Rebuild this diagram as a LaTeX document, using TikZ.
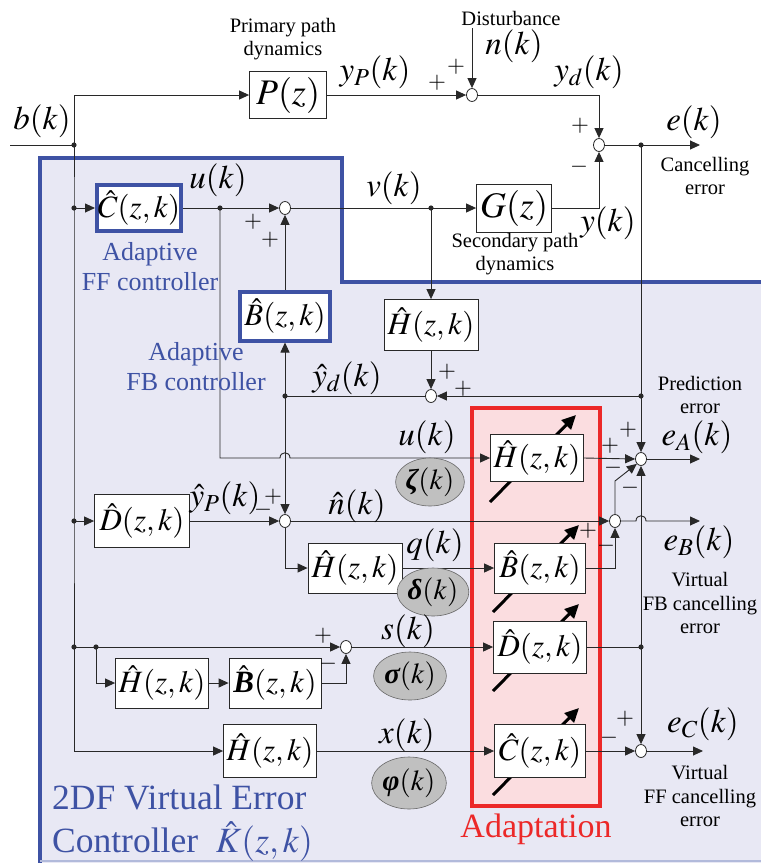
\documentclass[tikz,border=0pt]{standalone}
\usepackage{mathptmx}
\usepackage{fontspec}
\setmainfont{Liberation Serif}
\usetikzlibrary{arrows.meta,shapes.geometric,calc}
\definecolor{cblue}{RGB}{62,82,164}
\definecolor{cfill}{RGB}{232,232,244}
\definecolor{cred}{RGB}{236,40,40}
\definecolor{cpink}{RGB}{251,221,224}
\definecolor{cgray}{RGB}{192,192,192}
\definecolor{cline}{RGB}{40,40,40}
\begin{document}
\begin{tikzpicture}[x=1pt,y=-1pt,
  conn/.style={draw=cline,line width=0.9pt},
  arr/.style={conn,-{Triangle[length=10pt,width=9pt]}},
  blk/.style={draw=cline,fill=white,line width=0.8pt,inner sep=0pt,font=\fontsize{31}{33}\selectfont},
  bblk/.style={blk,draw=cblue,line width=4pt},
  sj/.style={ellipse,draw=cline,fill=white,line width=0.8pt,minimum width=11pt,minimum height=13pt,inner sep=0pt},
  lbl/.style={font=\fontsize{33}{36}\selectfont,inner sep=0pt},
  sgn/.style={font=\fontsize{23}{25}\selectfont,inner sep=0pt},
  small/.style={font=\fontsize{20.5}{23.5}\selectfont,align=center,inner sep=0pt},
  bluet/.style={font=\fontsize{26}{30}\selectfont,text=cblue,align=center,inner sep=0pt},
  greek/.style={ellipse,draw=cline!70,fill=cgray,line width=0.6pt,inner sep=0pt,font=\fontsize{29}{32}\selectfont},
  adapt/.style={line width=3pt,-{Triangle[length=14pt,width=13pt]}}
]
\clip (0,0) rectangle (761,863);
\useasboundingbox (0,0) rectangle (761,863);
\fill[white] (0,0) rectangle (761,863);
% controller region
\fill[cfill] (40,158) -- (342,158) -- (342,282) -- (770,282) -- (770,870) -- (40,870) -- cycle;
\draw[cblue,line width=4.5pt] (40,870) -- (40,158) -- (342,158) -- (342,282) -- (770,282);
\draw[cblue!40,line width=1.2pt] (40,861) -- (770,861);
% adaptation region
\draw[cred,fill=cpink,line width=4pt] (472,408) rectangle (600,806);
\node[font=\fontsize{34}{38}\selectfont,text=cred,inner sep=0pt] (adtxt) at (536,829) {Adaptation};
% adaptation arrows
\coordinate (AHc) at (537,458);
\coordinate (ABc) at (540,568);
\coordinate (ADc) at (540,647);
\coordinate (ACc) at (540,751);
\foreach \c in {AHc,ABc,ADc,ACc}{
  \draw[adapt] ($(\c)+(-47,44)$) -- ($(\c)+(39,-43)$);
}
% blocks
\node[blk,minimum width=77pt,minimum height=47pt,font=\fontsize{36}{38}\selectfont] (P) at (288,95) {$P(z)$};
\node[sj] (s1) at (472,95) {};
\node[sj] (s2) at (599,145) {};
\node[blk,minimum width=75pt,minimum height=48pt,font=\fontsize{36}{38}\selectfont] (G) at (514,208) {$G(z)$};
\node[bblk,minimum width=84pt,minimum height=46pt] (C) at (139,208) {$\hat C(z,k)$};
\node[sj] (s3) at (285,208) {};
\node[bblk,minimum width=90pt,minimum height=49pt] (B) at (285,316) {$\hat B(z,k)$};
\node[blk,minimum width=94pt,minimum height=51pt] (Hv) at (431,325) {$\hat H(z,k)$};
\node[sj] (s4) at (431,396) {};
\node[blk,minimum width=95pt,minimum height=53pt] (D) at (142,521) {$\hat D(z,k)$};
\node[sj] (s5) at (285,521) {};
\node[blk,minimum width=94pt,minimum height=50pt] (Hn) at (355,568) {$\hat H(z,k)$};
\node[blk,minimum width=93pt,minimum height=50pt] (Hb) at (162,683) {$\hat H(z,k)$};
\node[blk,minimum width=92pt,minimum height=50pt] (Bb) at (275,683) {$\hat{\mbox{\bfseries\itshape B}}(z,k)$};
\node[sj] (s6) at (346,647) {};
\node[blk,minimum width=93pt,minimum height=53pt] (Hx) at (270,751) {$\hat H(z,k)$};
\node[blk,minimum width=93pt,minimum height=47pt] (AH) at (AHc) {$\hat H(z,k)$};
\node[blk,minimum width=91pt,minimum height=50pt] (AB) at (ABc) {$\hat B(z,k)$};
\node[blk,minimum width=93pt,minimum height=52pt] (AD) at (ADc) {$\hat D(z,k)$};
\node[blk,minimum width=91pt,minimum height=53pt] (AC) at (ACc) {$\hat C(z,k)$};
\node[sj] (eA) at (641,459) {};
\node[sj] (eB) at (615,521) {};
\node[sj] (eC) at (641,751) {};
% junction points
\coordinate (bin) at (10,145);
\coordinate (jb) at (74,145);
\coordinate (jC) at (74,208);
\coordinate (jD) at (74,521);
\coordinate (jL) at (74,647);
\coordinate (jL2) at (96,647);
\coordinate (ju) at (220,208);
\coordinate (jv) at (431,208);
\coordinate (je) at (641,145);
\coordinate (jp) at (641,396);
\coordinate (jyd) at (285,396);
\coordinate (jdd) at (641,647);
\coordinate (nin) at (472,28);
\coordinate (eout) at (700,145);
\coordinate (eAout) at (700,459);
\coordinate (eBout) at (700,521);
\coordinate (eCout) at (703,751);
% connectors
\draw[conn] (bin) -- (jb);
\draw[arr] (jb) |- (P.west);
\draw[conn] (jb) -- (jC) -- (jD) -- (jL);
\draw[arr] (jC) -- (C.west);
\draw[arr] (jD) -- (D.west);
\draw[arr] (jL) |- (Hx.west);
\draw[arr] (P.east) -- (s1.west);
\draw[arr] (nin) -- (s1.north);
\draw[arr] (s1.east) -| (s2.north);
\draw[arr] (s2.east) -- (eout);
\draw[arr] (G.east) -| (s2.south);
\draw[arr] (C.east) -- (s3.west);
\draw[arr] (s3.east) -- (G.west);
\draw[arr] (jv) -- (Hv.north);
\draw[arr] (Hv.south) -- (s4.north);
\draw[conn] (je) -- (jp);
\draw[arr] (jp) -- (eA.north);
\draw[arr] (jp) -- (s4.east);
\draw[conn] (s4.west) -- (jyd);
\draw[arr] (jyd) -- (B.south);
\draw[arr] (B.north) -- (s3.south);
\draw[arr] (jyd) -- (s5.north);
\draw[arr] (ju) -- (220,458) -- (280,458) .. controls (280,451) and (290,451) .. (290,458) -- (AH.west);
\draw[arr] (D.east) -- (s5.west);
\draw[arr] (s5.east) -- (eB.west);
\draw[arr] (s5.south) |- (Hn.west);
\draw[arr] (Hn.east) -- (AB.west);
\draw[arr] (AH.east) -- (eA.west);
\draw[arr] (AB.east) -| (eB.south);
\draw[arr] (eB.north) -- (615,481) -- (eA.south west);
\draw[arr] (eA.east) -- (eAout);
\draw[arr] (eB.east) -- (636,521) .. controls (636,514) and (646,514) .. (646,521) -- (eBout);
\draw[conn] (AD.east) -- (jdd);
\draw[arr] (jdd) -- (eA.south);
\draw[arr] (jdd) -- (eC.north);
\draw[arr] (AC.east) -- (eC.west);
\draw[arr] (eC.east) -- (eCout);
\draw[arr] (jL) -- (s6.west);
\draw[arr] (jL2) |- (Hb.west);
\draw[arr] (Hb.east) -- (Bb.west);
\draw[arr] (Bb.east) -| (s6.south);
\draw[arr] (s6.east) -- (AD.west);
\draw[arr] (Hx.east) -- (AC.west);
% dots
\foreach \p in {jb,jC,jD,jL,jL2,ju,jv,je,jp,jyd,jdd}{\fill[cline] (\p) circle (2.6);}
% greek ellipses
\node[greek,minimum width=56pt,minimum height=48pt] (zeta) at (430,482) {{\bfseries\itshape ζ}$(k)$};
\node[greek,minimum width=54pt,minimum height=48pt] (delta) at (433,592) {{\bfseries\itshape δ}$(k)$};
\node[greek,minimum width=58pt,minimum height=48pt] (sigma) at (410,676) {{\bfseries\itshape σ}$(k)$};
\node[greek,minimum width=58pt,minimum height=52pt] (phi) at (409,783) {{\bfseries\itshape φ}$(k)$};
% signal labels
\node[lbl] (lb) at (42,121) {$b(k)$};
\node[lbl] (lyp) at (375,72) {$y_P(k)$};
\node[lbl] (lnk) at (514,46) {$n(k)$};
\node[lbl] (lyd) at (589,72) {$y_d(k)$};
\node[lbl] (lek) at (694,122) {$e(k)$};
\node[lbl] (lyk) at (608,223) {$y(k)$};
\node[lbl] (luk) at (218,180) {$u(k)$};
\node[lbl] (lvk) at (394,188) {$v(k)$};
\node[lbl] (lydh) at (347,378) {$\hat y_d(k)$};
\node[lbl] (luk2) at (427,437) {$u(k)$};
\node[lbl] (lyph) at (225,498) {$\hat y_P(k)$};
\node[lbl] (lnh) at (357,506) {$\hat n(k)$};
\node[lbl] (lqk) at (435,545) {$q(k)$};
\node[lbl] (lsk) at (408,631) {$s(k)$};
\node[lbl] (lxk) at (407,735) {$x(k)$};
\node[lbl] (leA) at (697,437) {$e_A(k)$};
\node[lbl] (leB) at (699,542) {$e_B(k)$};
\node[lbl] (leC) at (703,724) {$e_C(k)$};
% signs
\node[sgn] at (437,83) {$+$};
\node[sgn] at (456,67) {$+$};
\node[sgn] at (580,126) {$+$};
\node[sgn] at (579,167) {$-$};
\node[sgn] at (253,222) {$+$};
\node[sgn] at (270,240) {$+$};
\node[sgn] at (447,372) {$+$};
\node[sgn] at (463,389) {$+$};
\node[sgn] at (273,497) {$+$};
\node[sgn] at (263,510) {$-$};
\node[sgn] at (628,430) {$+$};
\node[sgn] at (610,446) {$+$};
\node[sgn] at (613,468) {$-$};
\node[sgn] at (630,488) {$-$};
\node[sgn] at (588,531) {$+$};
\node[sgn] at (606,546) {$-$};
\node[sgn] at (323,636) {$+$};
\node[sgn] at (328,664) {$-$};
\node[sgn] at (625,719) {$+$};
\node[sgn] at (609,738) {$-$};
% descriptive text
\node[small] (tprim) at (283,39) {Primary path\\dynamics};
\node[small] (tdist) at (511,18) {Disturbance};
\node[small] (tcanc) at (705,176) {Cancelling\\error};
\node[small] (tsec) at (515,254) {Secondary path\\dynamics};
\node[small] (tpred) at (700,395) {Prediction\\error};
\node[small] (tvfb) at (700,603) {Virtual\\FB cancelling\\error};
\node[small] (tvff) at (700,796) {Virtual\\FF cancelling\\error};
\node[bluet] (tff) at (150,267) {Adaptive\\FF controller};
\node[bluet] (tfb) at (196,367) {Adaptive\\FB controller};
\node[font=\fontsize{35.5}{39}\selectfont,text=cblue,anchor=west,inner sep=0pt] (t2df) at (52,797) {2DF Virtual Error};
\node[font=\fontsize{35.5}{39}\selectfont,text=cblue,anchor=west,inner sep=0pt] (tctl) at (52,842) {Controller~~$\hat K(z,k)$};
\end{tikzpicture}
\end{document}
